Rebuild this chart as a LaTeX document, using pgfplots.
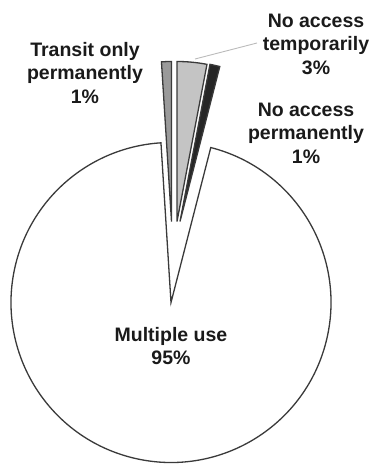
\documentclass[border=0pt]{standalone}
\usepackage{pgfplots}
\pgfplotsset{compat=1.18}
\usepackage{pgfplotstable}
\usepackage{fontspec}
\setmainfont{Liberation Sans}
\definecolor{outline}{HTML}{3A3A3A}
\definecolor{ctemp}{HTML}{C4C4C4}
\definecolor{cperm}{HTML}{262626}
\definecolor{cmult}{HTML}{FFFFFF}
\definecolor{ctran}{HTML}{9A9A9A}
\definecolor{leader}{HTML}{BBBBBB}
\definecolor{txt}{HTML}{1A1A1A}
% slice values (percent), explosion offsets (dx, dy) and fill colour
\pgfplotstableread{
value dx dy col
3 6 81 ctemp
1 9 81 cperm
95 0 0 cmult
1 0.5 81 ctran
}\pietable
\begin{document}
\begin{tikzpicture}
\begin{axis}[
  name=ax,
  x=1pt, y=1pt,
  xmin=0, xmax=371, ymin=0, ymax=464,
  hide axis, clip=false,
]
\def\cum{0}
\pgfplotsforeachungrouped \i in {0,...,3}{%
  \pgfplotstablegetelem{\i}{value}\of\pietable \let\v\pgfplotsretval
  \pgfplotstablegetelem{\i}{dx}\of\pietable \let\ddx\pgfplotsretval
  \pgfplotstablegetelem{\i}{dy}\of\pietable \let\ddy\pgfplotsretval
  \pgfplotstablegetelem{\i}{col}\of\pietable \let\fc\pgfplotsretval
  \pgfmathsetmacro\sa{90-3.6*\cum}%
  \pgfmathsetmacro\ea{90-3.6*(\cum+\v)}%
  \pgfmathsetmacro\cum{\cum+\v}%
  \pgfmathsetmacro\cx{171+\ddx}%
  \pgfmathsetmacro\cy{161.5+\ddy}%
  \edef\temp{\noexpand\filldraw[fill=\fc, draw=outline, line width=1.3pt, line join=miter]
    (axis cs:\cx,\cy) -- ++(\sa:160pt) arc[start angle=\sa, end angle=\ea, radius=160pt] -- cycle;}%
  \temp
}
\draw[leader, line width=0.9pt] (axis cs:195,405) -- (axis cs:257,421);
\begin{scope}[every node/.style={align=center, inner sep=0pt, text=txt,
   font=\fontsize{19.5}{23.5}\selectfont\bfseries}]
\node at (axis cs:316,420) {No access\\temporarily\\3\%};
\node at (axis cs:306,331) {No access\\permanently\\1\%};
\node at (axis cs:85,391) {Transit only\\permanently\\1\%};
\node at (axis cs:171,118) {Multiple use\\95\%};
\end{scope}
\end{axis}
\pgfresetboundingbox
\path (ax.south west) rectangle (ax.north east);
\end{tikzpicture}
\end{document}
